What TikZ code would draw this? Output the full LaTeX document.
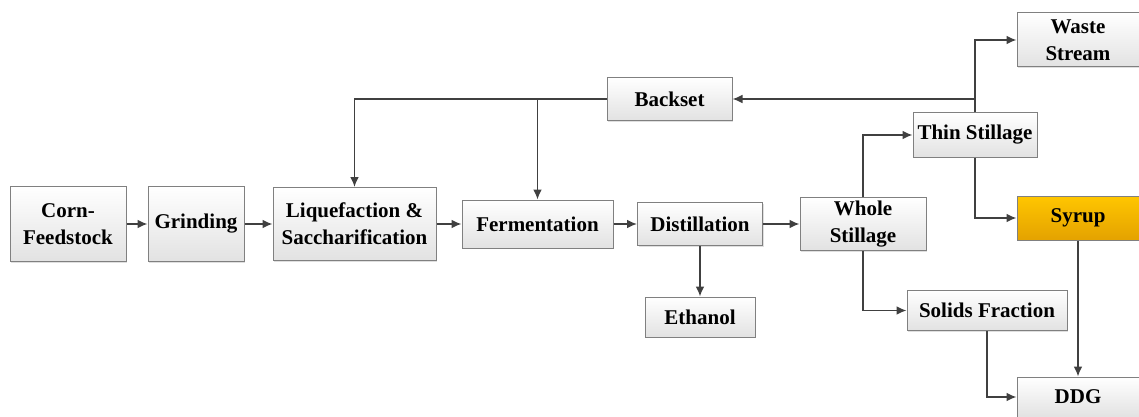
\documentclass[tikz,border=0pt]{standalone}
\usepackage{fontspec}
\setmainfont{Liberation Serif}
\usetikzlibrary{arrows.meta, positioning, shadows}
\definecolor{boxline}{RGB}{128,128,128}
\definecolor{boxlow}{RGB}{226,226,226}
\definecolor{linkgray}{RGB}{64,64,64}
\definecolor{syruptop}{RGB}{255,198,0}
\definecolor{syruplow}{RGB}{228,162,0}

\begin{document}
\begin{tikzpicture}[
        x=0.5pt, y=-0.5pt,
        font=\fontsize{10.5}{13.5}\selectfont\bfseries,
        >={Latex[width=4.4pt,length=5pt]},
        base/.style={draw=boxline, line width=0.5pt, align=center, inner sep=0pt,
            top color=white, bottom color=boxlow,
            drop shadow={shadow xshift=0.6pt, shadow yshift=-0.6pt, fill=black!25}},
        stage/.style={base, rectangle},
        product/.style={base, rectangle, top color=syruptop, bottom color=syruplow},
        arrow/.style={->, line width=0.75pt, color=linkgray}
    ]
    \useasboundingbox (0,0) rectangle (1139,417);

    % Nodes
    \node[stage, minimum width=58pt, minimum height=37.5pt] (corn) at (68,224) {Corn-\\Feedstock};
    \node[stage, minimum width=48pt, minimum height=37.5pt] (grind) at (196,224) {Grinding};
    \node[stage, minimum width=81.5pt, minimum height=36.5pt] (liq) at (354.5,224) {Liquefaction \&\\Saccharification};
    \node[stage, minimum width=75.5pt, minimum height=24pt] (ferm) at (537.5,224) {Fermentation};
    \node[stage, minimum width=62.5pt, minimum height=21.5pt] (dist) at (700,224) {Distillation};
    \node[stage, minimum width=55pt, minimum height=20pt] (eth) at (700,317) {Ethanol};
    \node[stage, minimum width=63pt, minimum height=26.5pt] (whole) at (863,224) {Whole\\Stillage};
    \node[stage, minimum width=62.5pt, minimum height=21.5pt] (backset) at (669.5,99) {Backset};
    \node[stage, minimum width=62pt, minimum height=22pt] (thin) at (975,135) {Thin Stillage};
    \node[stage, minimum width=61pt, minimum height=27pt] (waste) at (1078,40) {Waste\\Stream};
    \node[product, minimum width=61pt, minimum height=22pt] (syrup) at (1078,218) {Syrup};
    \node[stage, minimum width=80pt, minimum height=20pt] (solids) at (987,310.5) {Solids Fraction};
    \node[stage, minimum width=61pt, minimum height=20pt] (ddg) at (1078,397) {DDG};

    % Junctions
    \coordinate (tap) at (thin.north |- backset.east);
    \coordinate (split) at (ferm.north |- backset.west);

    % Arrows
    \draw[arrow] (corn) -- (grind);
    \draw[arrow] (grind) -- (liq);
    \draw[arrow] (liq) -- (ferm);
    \draw[arrow] (ferm) -- (dist);
    \draw[arrow] (dist) -- (whole);
    \draw[arrow] (dist) -- (eth);
    \draw[arrow] (whole.north) |- (thin.west);
    \draw[arrow] (whole.south) |- (solids.west);
    \draw[arrow] (thin.north) |- (waste.west);
    \draw[arrow] (thin.south) |- (syrup.west);
    \draw[arrow] (tap) -- (backset.east);
    \draw[arrow] (backset.west) -| (liq.north);
    \draw[arrow] (split) -- (ferm.north);
    \draw[arrow] (syrup) -- (ddg);
    \draw[arrow] (solids.south) |- (ddg.west);

    \end{tikzpicture}
\end{document}
